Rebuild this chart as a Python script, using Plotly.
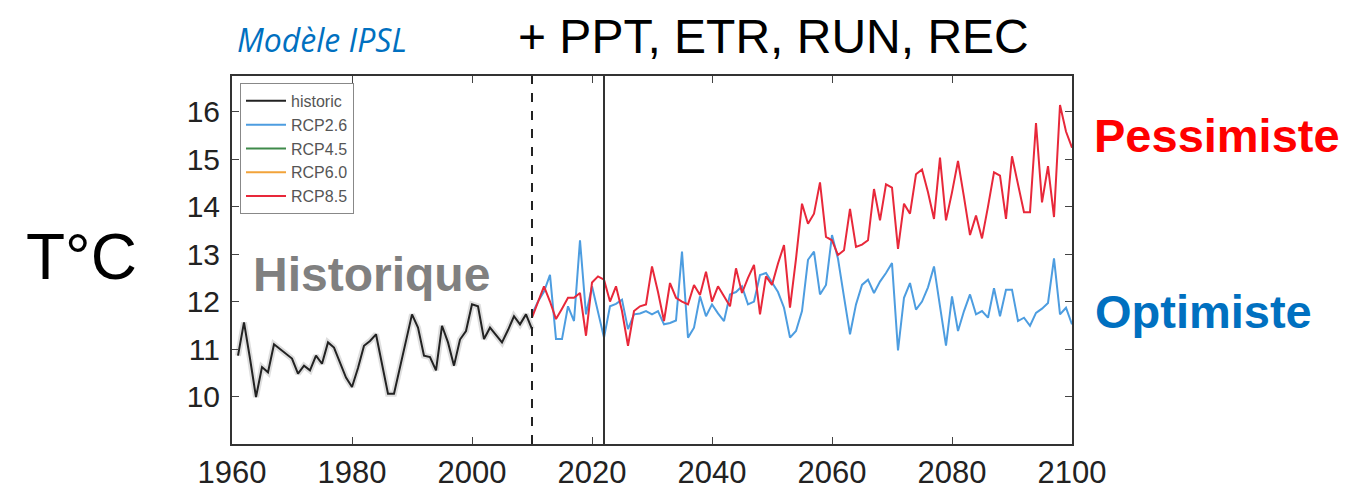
import plotly.graph_objects as go

# ---------------- data ----------------
hist_years = list(range(1961, 2011))
hist_temp = [10.86, 11.56, 10.80, 9.99, 10.62, 10.51, 11.10, 11.00, 10.90, 10.80,
             10.48, 10.65, 10.55, 10.86, 10.69, 11.14, 11.03, 10.70, 10.40, 10.20,
             10.60, 11.07, 11.17, 11.31, 10.70, 10.06, 10.06, 10.60, 11.20, 11.73,
             11.45, 10.86, 10.83, 10.55, 11.49, 11.14, 10.65, 11.20, 11.38, 11.94,
             11.90, 11.21, 11.45, 11.30, 11.14, 11.40, 11.69, 11.52, 11.73, 11.42]

proj_years = list(range(2010, 2101))
rcp26 = [11.73, 12.00, 12.21, 12.56, 11.21, 11.21, 11.90, 11.59, 13.29, 11.73,
         12.32, 11.80, 11.24, 11.90, 11.95, 12.04, 11.42, 11.73, 11.75, 11.80,
         11.73, 11.80, 11.52, 11.55, 11.60, 13.05, 11.24, 11.45, 12.11, 11.69,
         11.94, 11.75, 11.59, 12.15, 12.20, 12.32, 11.94, 12.00, 12.56, 12.60,
         12.40, 12.20, 11.87, 11.24, 11.38, 11.80, 12.88, 13.05, 12.15, 12.35,
         13.40, 12.90, 12.10, 11.31, 11.94, 12.35, 12.46, 12.18, 12.42, 12.60,
         12.81, 10.97, 12.08, 12.39, 11.83, 12.00, 12.30, 12.74, 11.90, 11.07,
         12.11, 11.38, 11.80, 12.15, 11.73, 11.80, 11.66, 12.28, 11.69, 12.25,
         12.25, 11.59, 11.66, 11.49, 11.76, 11.85, 11.97, 12.91, 11.73, 11.87,
         11.52]
rcp85 = [11.66, 12.00, 12.32, 12.00, 11.63, 11.85, 12.08, 12.08, 12.18, 11.28,
         12.40, 12.53, 12.46, 12.00, 12.32, 11.80, 11.07, 11.80, 11.90, 11.94,
         12.74, 12.20, 11.59, 12.39, 12.08, 12.00, 11.94, 12.35, 12.14, 12.63,
         12.00, 12.32, 12.10, 11.90, 12.70, 12.18, 12.50, 12.77, 11.73, 12.53,
         12.35, 12.80, 13.19, 11.87, 12.90, 14.06, 13.64, 13.85, 14.51, 13.36,
         13.29, 12.98, 13.08, 13.95, 13.15, 13.20, 13.29, 14.37, 13.71, 14.47,
         14.40, 13.11, 14.06, 13.85, 14.68, 14.78, 14.30, 13.74, 15.03, 13.71,
         14.30, 14.96, 14.20, 13.40, 13.81, 13.33, 14.00, 14.72, 14.65, 13.74,
         15.06, 14.50, 13.88, 13.88, 15.76, 14.09, 14.85, 13.78, 16.14, 15.58,
         15.24]

legend_names = ["historic", "RCP2.6", "RCP4.5", "RCP6.0", "RCP8.5"]
legend_colors = ["#222222", "#4d9de0", "#3f8a4a", "#f2a33a", "#e8283a"]

x_ticks = [1960, 1980, 2000, 2020, 2040, 2060, 2080, 2100]
y_ticks = [10, 11, 12, 13, 14, 15, 16]
x_range = [1960, 2100]
y_range = [9.0, 16.75]
obs_end_year = 2010     # dashed line
today_year = 2022       # solid line

# ---------------- layout helpers ----------------
W, H = 1348, 494
L, R, T, B = 224, 1064, 68, 439


def px(xp):
    return (xp - L) / (R - L)


def py(yp):
    return (B - yp) / (B - T)


fig = go.Figure()

# grey halo around historic
fig.add_trace(go.Scatter(x=hist_years, y=hist_temp, mode="lines",
                         line=dict(color="rgba(0,0,0,0.13)", width=6),
                         showlegend=False, hoverinfo="skip"))

series = {
    "historic": (hist_years, hist_temp),
    "RCP2.6": (proj_years, rcp26),
    "RCP4.5": ([None], [None]),
    "RCP6.0": ([None], [None]),
    "RCP8.5": (proj_years, rcp85),
}
draw_order = ["historic", "RCP4.5", "RCP6.0", "RCP2.6", "RCP8.5"]
for name in draw_order:
    xs, ys = series[name]
    i = legend_names.index(name)
    fig.add_trace(go.Scatter(x=xs, y=ys, mode="lines", name=name,
                             legendgroup=name, legendrank=i + 1,
                             line=dict(color=legend_colors[i], width=2)))

fig.add_vline(x=obs_end_year, line=dict(color="#222", width=2, dash="dash"))
fig.add_vline(x=today_year, line=dict(color="#333", width=2))

# slide bottom rule
fig.add_shape(type="line", xref="paper", yref="paper",
              x0=px(160), x1=px(1105), y0=py(491), y1=py(491),
              line=dict(color="#d8d8d8", width=1.5))

ann = [
    dict(text="<i>Modèle IPSL</i>", x=px(314), y=py(31), font=dict(size=32, color="#0070C0", family="Open Sans")),
    dict(text="+ PPT, ETR, RUN, REC", x=px(765), y=py(28), font=dict(size=48, color="#000000", family="Liberation Sans")),
    dict(text="T°C", x=px(73), y=py(250), font=dict(size=64, color="#000000", family="Liberation Sans")),
    dict(text="<b>Historique</b>", x=px(363), y=py(268), font=dict(size=48, color="#808080", family="Liberation Sans")),
    dict(text="<b>Pessimiste</b>", x=px(1209), y=py(128), font=dict(size=47, color="#FF0000", family="Liberation Sans")),
    dict(text="<b>Optimiste</b>", x=px(1195), y=py(305), font=dict(size=47, color="#0070C0", family="Liberation Sans")),
]
for a in ann:
    fig.add_annotation(xref="paper", yref="paper", showarrow=False,
                       xanchor="center", yanchor="middle", **a)

fig.update_layout(
    width=W, height=H,
    margin=dict(l=L, r=W - R, t=T, b=H - B, pad=0),
    paper_bgcolor="white", plot_bgcolor="white",
    font=dict(family="Liberation Sans", color="#222"),
    showlegend=True,
    legend=dict(x=px(232), y=py(75), xanchor="left", yanchor="top",
                bgcolor="white", bordercolor="#888", borderwidth=1,
                font=dict(size=16, color="#555"), traceorder="grouped",
                tracegroupgap=0, itemwidth=40),
)
fig.update_xaxes(range=x_range, tickvals=x_ticks, ticks="inside", ticklen=7,
                 tickcolor="#444", showline=True, linecolor="#333", linewidth=2,
                 mirror="ticks", showgrid=False, zeroline=False,
                 tickfont=dict(size=31, color="#222"))
fig.update_yaxes(range=y_range, tickvals=y_ticks, ticks="inside", ticklen=7,
                 tickcolor="#444", showline=True, linecolor="#333", linewidth=2,
                 mirror="ticks", showgrid=False, zeroline=False,
                 ticklabelstandoff=4,
                 tickfont=dict(size=30, color="#222"))

fig.write_html("out.html")
